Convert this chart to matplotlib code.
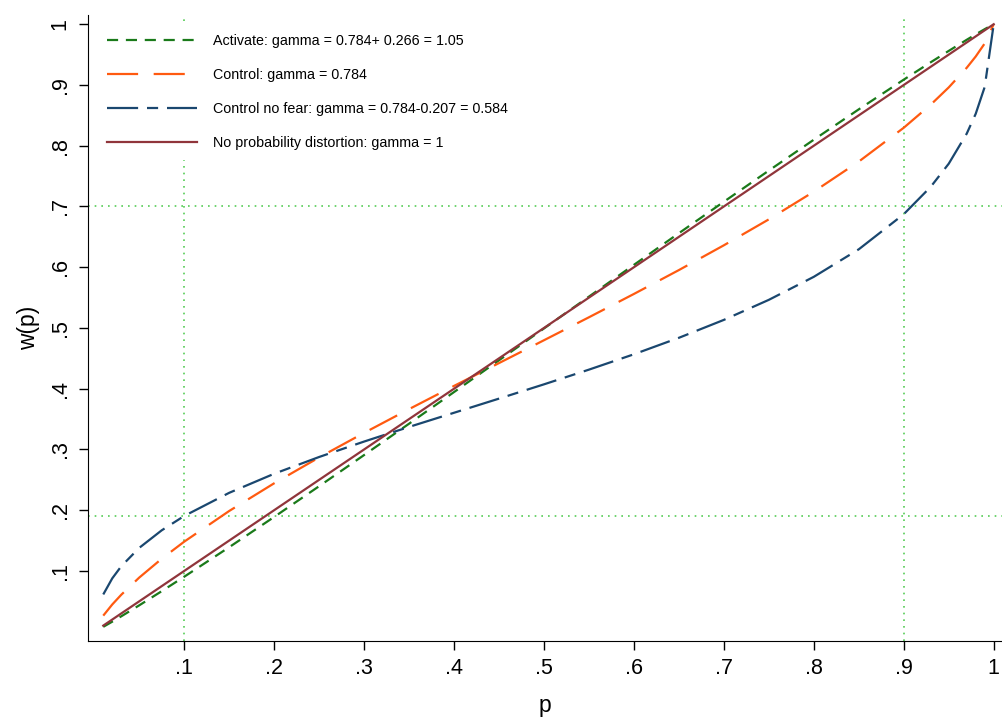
import numpy as np
import matplotlib
matplotlib.use("Agg")
from matplotlib import pyplot as plt

plt.rcParams['font.family'] = ['Liberation Sans', 'DejaVu Sans']

# probabilities (x)
p = [0.01, 0.02, 0.03, 0.05, 0.075, 0.1, 0.15, 0.2, 0.25, 0.3, 0.35, 0.4,
     0.45, 0.5, 0.55, 0.6, 0.65, 0.7, 0.75, 0.8, 0.85, 0.9, 0.93, 0.95,
     0.97, 0.98, 0.99, 1.0]

w_activate = [0.008, 0.0165, 0.0253, 0.0434, 0.0667, 0.0905, 0.1391, 0.1889,
              0.2395, 0.2908, 0.3424, 0.3945, 0.4468, 0.4992, 0.5516, 0.6039,
              0.6560, 0.7078, 0.7591, 0.8099, 0.8599, 0.9088, 0.9374, 0.9561,
              0.9744, 0.9833, 0.9919, 1.0]
w_control = [0.0264, 0.0448, 0.0608, 0.0891, 0.1201, 0.1482, 0.1987, 0.2443,
             0.2869, 0.3273, 0.3664, 0.4046, 0.4422, 0.4798, 0.5176, 0.5560,
             0.5953, 0.6361, 0.6788, 0.7244, 0.7739, 0.8296, 0.8676, 0.8960,
             0.9283, 0.9469, 0.9684, 1.0]
w_nofear = [0.0613, 0.0878, 0.1077, 0.1380, 0.1669, 0.1905, 0.2286, 0.2600,
            0.2876, 0.3130, 0.3371, 0.3604, 0.3837, 0.4072, 0.4314, 0.4567,
            0.4838, 0.5133, 0.5463, 0.5842, 0.6295, 0.6873, 0.7324, 0.7704,
            0.8199, 0.8526, 0.8968, 1.0]
p_diag = [0.01, 1.0]
w_diag = [0.01, 1.0]

ref_x = [0.1, 0.9]
ref_y = [0.19, 0.70]

labels = ["Activate: gamma = 0.784+ 0.266 = 1.05",
          "Control: gamma = 0.784",
          "Control no fear: gamma = 0.784-0.207 = 0.584",
          "No probability distortion: gamma = 1"]

fig = plt.figure(figsize=(10.02, 7.2), dpi=100)
ax = fig.add_axes([0.0878, 0.110, 0.912, 0.869])

ref_col = '#55cc55'
for xv in ref_x:
    ax.axvline(xv, color=ref_col, lw=1.2, ls=(0, (1, 3)), zorder=1)
for yv in ref_y:
    ax.axhline(yv, color=ref_col, lw=1.2, ls=(0, (1, 3)), zorder=1)

lw = 1.6
l1, = ax.plot(p, w_activate, color='#1a7a1a', lw=lw, ls=(0, (5, 3.5)), zorder=3)
l2, = ax.plot(p, w_control, color='#ff5a10', lw=lw, ls=(0, (14, 7)), zorder=3)
l3, = ax.plot(p, w_nofear, color='#1a476f', lw=lw, ls=(0, (14, 4, 5, 4)), zorder=3)
l4, = ax.plot(p_diag, w_diag, color='#90353b', lw=lw, zorder=4)

leg = ax.legend([l1, l2, l3, l4], labels, loc='upper left',
                bbox_to_anchor=(0.004, 0.995), fontsize=10.3, handlelength=6.3,
                handletextpad=1.1, labelspacing=1.4, frameon=True,
                fancybox=False, framealpha=1, facecolor='white',
                edgecolor='white', borderpad=0.6, borderaxespad=0.5)

ax.set_xlim(-0.007, 1.009)
ax.set_ylim(-0.015, 1.015)
ticks = [0.1, 0.2, 0.3, 0.4, 0.5, 0.6, 0.7, 0.8, 0.9, 1.0]
ticklabels = ['.1', '.2', '.3', '.4', '.5', '.6', '.7', '.8', '.9', '1']
ax.set_xticks(ticks)
ax.set_xticklabels(ticklabels, fontsize=15.5)
ax.set_yticks(ticks)
ax.set_yticklabels(ticklabels, fontsize=15.5, rotation=90, va='center')
ax.tick_params(direction='out', length=6.5, width=1, pad=6)
ax.spines['top'].set_visible(False)
ax.spines['right'].set_visible(False)
ax.set_xlabel('p', fontsize=16.5, labelpad=11)
ax.set_ylabel('w(p)', fontsize=16.5, labelpad=7)

plt.savefig('out.png', dpi=100)
